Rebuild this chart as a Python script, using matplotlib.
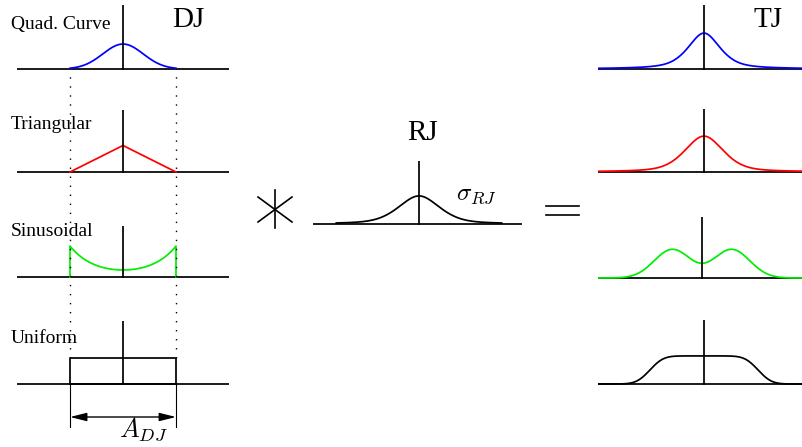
import math
import numpy as np
import matplotlib.pyplot as plt

plt.rcParams['font.family'] = 'Liberation Serif'
plt.rcParams['mathtext.fontset'] = 'cm'

# deterministic jitter shapes; x in units of A_DJ, heights relative to the uniform pdf
dj_names = ["Quad. Curve", "Triangular", "Sinusoidal", "Uniform"]
dj_colors = ["#0000ff", "#ff0000", "#00ee00", "#000000"]
a_dj = 1.0
quad_peak, quad_sigma = 0.96, 0.19
tri_peak = 1.02
sin_centre, sin_edge = 0.27, 1.19
uni_height = 1.0

# random jitter (peak, half width at half maximum, lorentzian fraction)
rj_peak, rj_hwhm, rj_mix, rj_extent = 1.08, 0.23, 0.45, 0.78

# total jitter
tj_blue_peak, tj_blue_hwhm, tj_blue_mix = 1.38, 0.18, 0.6
tj_red_peak, tj_red_hwhm, tj_red_mix = 1.38, 0.215, 0.45
tj_green_amp, tj_green_offset, tj_green_sigma = 1.1, 0.28, 0.17
tj_black_height, tj_black_half, tj_black_sigma = 1.08, 0.51, 0.10

W, H = 802, 447
PX_X, PX_Y = 106.0, 26.0  # pixels per unit
PAD = 8
LW = 1.25

fig = plt.figure(figsize=(W / 100, H / 100), dpi=100)

overlay = fig.add_axes([0, 0, 1, 1])
overlay.set_xlim(0, W)
overlay.set_ylim(H, 0)
overlay.axis('off')


def panel(cx, left, right, base, top):
    ax = fig.add_axes([left / W, 1 - (base + PAD) / H,
                       (right - left) / W, (base - top + PAD) / H])
    ax.set_xlim((left - cx) / PX_X, (right - cx) / PX_X)
    ax.set_ylim(-PAD / PX_Y, (base - top) / PX_Y)
    ax.axis('off')
    ax.axhline(0, color='k', lw=LW, zorder=1)
    ax.plot([0, 0], [0, (base - top) / PX_Y], color='k', lw=LW, zorder=3)
    return ax


def voigt(x, peak, hwhm, mix):
    # pseudo-Voigt: lorentzian and gaussian of equal width mixed together
    lor = 1 / (1 + (x / hwhm) ** 2)
    gau = np.exp(-math.log(2) * (x / hwhm) ** 2)
    return peak * (mix * lor + (1 - mix) * gau)


erf = np.vectorize(math.erf)
half = a_dj / 2

# DJ column
dj_axes = [panel(123, 17, 229, 69, 5), panel(123, 17, 229, 172, 110),
           panel(123, 17, 229, 277, 226), panel(123, 17, 229, 384, 321)]

x = np.linspace(-half, half, 300)
dj_axes[0].plot(x, quad_peak * np.exp(-x ** 2 / (2 * quad_sigma ** 2)),
                color=dj_colors[0], lw=LW, zorder=2)
dj_axes[1].plot([-half, 0, half], [0, tri_peak, 0], color=dj_colors[1], lw=LW, zorder=2)
k = np.arccosh(sin_edge / sin_centre) / half
dj_axes[2].plot(np.r_[-half, x, half], np.r_[0, sin_centre * np.cosh(k * x), 0],
                color=dj_colors[2], lw=LW, zorder=2)
dj_axes[3].plot([-half, -half, half, half, -half], [0, uni_height, uni_height, 0, 0],
                color=dj_colors[3], lw=LW, zorder=2)

ax4 = dj_axes[3]
top_dot = (384 - 74) / PX_Y
for xe in (-half, half):
    ax4.plot([xe, xe], [uni_height, top_dot], color='k', lw=1.0,
             linestyle=(0, (1, 5.5)), clip_on=False)
    ax4.plot([xe, xe], [0, -43 / PX_Y], color='k', lw=0.8, clip_on=False)
ax4.annotate('', xy=(-half, -33 / PX_Y), xytext=(half, -33 / PX_Y),
             arrowprops=dict(arrowstyle='<|-|>,head_length=1.0,head_width=0.25',
                             color='k', lw=1.0, shrinkA=0, shrinkB=0),
             annotation_clip=False)
ax4.text(0.19, -53 / PX_Y, r'$A_{DJ}$', fontsize=19, ha='center', va='baseline',
         clip_on=False)

for name, yb in zip(dj_names, [29, 129, 236, 343]):
    overlay.text(11, yb, name, fontsize=14, ha='left', va='baseline')
overlay.text(188.5, 27, 'DJ', fontsize=21, ha='center', va='baseline')

# RJ
rj_ax = panel(419, 313, 522, 224, 161)
xr = np.linspace(-rj_extent, rj_extent, 400)
rj_ax.plot(xr, voigt(xr, rj_peak, rj_hwhm, rj_mix), color='k', lw=LW, zorder=2)
rj_ax.text(0.54, 24 / PX_Y, r'$\sigma_{RJ}$', fontsize=18, ha='center', va='baseline',
           clip_on=False)
overlay.text(423, 140, 'RJ', fontsize=21, ha='center', va='baseline')

# convolution and equals signs
overlay.plot([275, 275], [190, 228], color='k', lw=1.2)
overlay.plot([258, 292], [197, 222], color='k', lw=1.2)
overlay.plot([258, 292], [222, 197], color='k', lw=1.2)
overlay.plot([546, 579], [206, 206], color='k', lw=1.2)
overlay.plot([546, 579], [215, 215], color='k', lw=1.2)

# TJ column
tj_axes = [panel(704, 598, 802, 69, 5), panel(704, 598, 802, 172, 109),
           panel(702, 598, 802, 278, 217), panel(704, 598, 802, 384, 320)]
xt = np.linspace(-1.1, 1.1, 600)
tj_curves = [
    voigt(xt, tj_blue_peak, tj_blue_hwhm, tj_blue_mix),
    voigt(xt, tj_red_peak, tj_red_hwhm, tj_red_mix),
    tj_green_amp * (np.exp(-(xt - tj_green_offset) ** 2 / (2 * tj_green_sigma ** 2))
                    + np.exp(-(xt + tj_green_offset) ** 2 / (2 * tj_green_sigma ** 2))),
    tj_black_height * 0.5 * (erf((xt + tj_black_half) / (math.sqrt(2) * tj_black_sigma))
                             - erf((xt - tj_black_half) / (math.sqrt(2) * tj_black_sigma))),
]
for ax, y, c in zip(tj_axes, tj_curves, dj_colors):
    ax.plot(xt, y, color=c, lw=LW, zorder=2)
overlay.text(768, 27, 'TJ', fontsize=21, ha='center', va='baseline')

fig.savefig('out.png', dpi=100)
